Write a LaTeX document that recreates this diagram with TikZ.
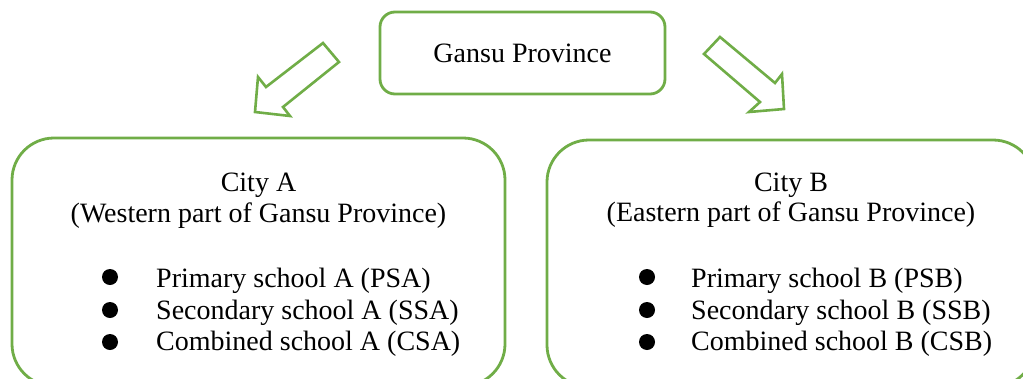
\documentclass[tikz,border=0pt]{standalone}
\usepackage{fontspec}
\setmainfont{Liberation Serif}
\definecolor{leaf}{RGB}{112,173,71}
\tikzset{
  frame/.style={draw=leaf, line width=2.8pt, fill=white},
  blockarrow/.style={draw=leaf, line width=2.6pt, fill=white, line join=miter},
  txt/.style={inner sep=0pt, font=\fontsize{28}{32}\selectfont},
  dot/.style={circle, fill=black, inner sep=0pt, minimum size=16pt},
}
\begin{document}
\begin{tikzpicture}[x=1pt, y=-1pt]
\useasboundingbox (0,0) rectangle (1023,378);
\clip (0,0) rectangle (1023,378);

% province box
\node[frame, rounded corners=15pt, minimum width=285pt, minimum height=82pt,
      txt] (gansu) at (522.5,53) {Gansu Province};

% city boxes (their lower parts run past the bottom edge)
\node[frame, rounded corners=42pt, minimum width=493pt, minimum height=248pt]
  (cityA) at (258.5,262) {};
\node[frame, rounded corners=42pt, minimum width=488pt, minimum height=247pt]
  (cityB) at (791,263.5) {};

% hollow block arrows from the province towards the two cities
\draw[blockarrow] (323,43) -- (339,62) -- (283,107) -- (290,116)
  -- (255,112) -- (258,77) -- (266,87) -- cycle;
\draw[blockarrow] (720,37) -- (775,83) -- (782,74) -- (784,109)
  -- (749,112) -- (760,102) -- (704,54) -- cycle;

% City A contents
\node[txt, anchor=base] (titleA) at (258.5,191) {City A};
\node[txt, anchor=base] (subA) at (258.5,222) {(Western part of Gansu Province)};
\node[dot] (bA1) at (110,277) {};
\node[dot] (bA2) at (110,310) {};
\node[dot] (bA3) at (110,342) {};
\node[txt, anchor=base west] (psa) at (156,287) {Primary school A (PSA)};
\node[txt, anchor=base west] (ssa) at (156,319) {Secondary school A (SSA)};
\node[txt, anchor=base west] (csa) at (156,350) {Combined school A (CSA)};

% City B contents
\node[txt, anchor=base] (titleB) at (791,191) {City B};
\node[txt, anchor=base] (subB) at (791,221) {(Eastern part of Gansu Province)};
\node[dot] (bB1) at (647,277) {};
\node[dot] (bB2) at (647,310) {};
\node[dot] (bB3) at (647,342) {};
\node[txt, anchor=base west] (psb) at (691,287) {Primary school B (PSB)};
\node[txt, anchor=base west] (ssb) at (691,319) {Secondary school B (SSB)};
\node[txt, anchor=base west] (csb) at (691,350) {Combined school B (CSB)};
\end{tikzpicture}
\end{document}
